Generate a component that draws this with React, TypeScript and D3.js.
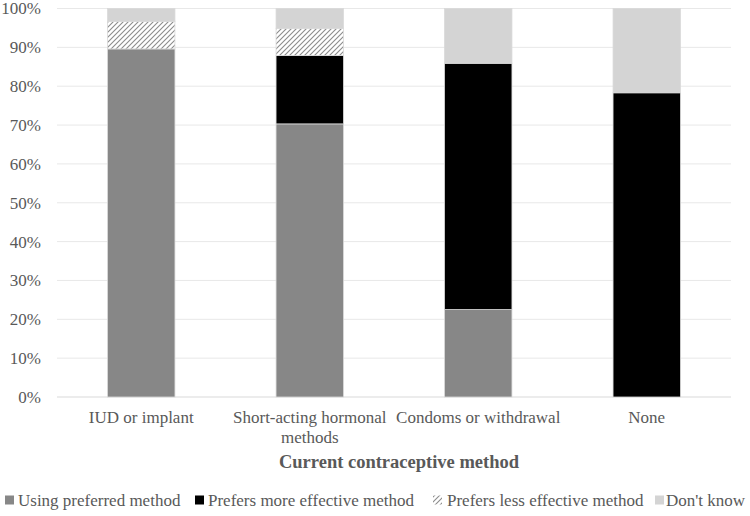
import React from "react";
import * as d3 from "d3";

const categories = ["IUD or implant", "Short-acting hormonal methods", "Condoms or withdrawal", "None"];
const categoryLines = [["IUD or implant"], ["Short-acting hormonal", "methods"], ["Condoms or withdrawal"], ["None"]];
const usingPreferred = [89.6, 70.3, 22.5, 0];
const prefersMore = [0, 17.6, 63.4, 78.3];
const prefersLess = [7.1, 7.0, 0, 0];
const dontKnow = [3.3, 5.1, 14.1, 21.7];
const yTicks = [0, 10, 20, 30, 40, 50, 60, 70, 80, 90, 100];
const seriesNames = ["Using preferred method", "Prefers more effective method", "Prefers less effective method", "Don't know"];

const W = 750;
const H = 516;
const FONT = "Liberation Serif, Times New Roman, Tinos, serif";
const TEXT = "#595959";
const txt = (size: number, bold = false): React.CSSProperties => ({
  fontFamily: FONT,
  fontSize: size + "px",
  fontWeight: bold ? 700 : 400,
  fill: TEXT,
});

export default function App() {
  const x = d3.scaleBand<string>().domain(categories).range([57, 731]).paddingInner(0.6).paddingOuter(0.3);
  const y = d3.scaleLinear().domain([0, 100]).range([397, 8.5]);

  const rows = categories.map((c, i) => ({
    cat: c,
    using: usingPreferred[i],
    more: prefersMore[i],
    less: prefersLess[i],
    dk: dontKnow[i],
  }));
  const keys = ["using", "more", "less", "dk"];
  const stack = d3.stack<any>().keys(keys)(rows);
  const fills = ["#878787", "#000000", "url(#hatch)", "#d4d4d4"];

  const legendX = [5, 195, 433, 655];
  const legendTextX = [18, 208, 447, 666];

  return (
    <svg width={W} height={H} style={{ position: "absolute", left: 0, top: 0, background: "#fff" }}>
      <defs>
        <pattern id="hatch" patternUnits="userSpaceOnUse" width="5" height="5">
          <rect width="5" height="5" fill="#ffffff" />
          <path d="M-1,1 l2,-2 M0,5 l5,-5 M4,6 l2,-2" stroke="#8c8c8c" strokeWidth="1.1" />
        </pattern>
      </defs>
      <rect width={W} height={H} fill="#fff" />
      {yTicks.map((t) => (
        <g key={t}>
          <line x1={57} x2={731} y1={y(t)} y2={y(t)} stroke={t === 0 ? "#d9d9d9" : "#e8e8e8"} strokeWidth={1} />
          <text x={41} y={y(t)} dy="0.35em" textAnchor="end" style={txt(17)}>
            {t}%
          </text>
        </g>
      ))}
      {stack.map((layer, li) =>
        layer.map((d, i) => {
          const h = y(d[0]) - y(d[1]);
          if (h <= 0) return null;
          return (
            <rect
              key={li + "-" + i}
              x={x(categories[i])}
              y={y(d[1])}
              width={x.bandwidth()}
              height={h}
              fill={fills[li]}
              stroke="#d9d9d9"
              strokeWidth={0.8}
            />
          );
        })
      )}
      {categoryLines.map((lines, i) => (
        <text key={i} textAnchor="middle" style={txt(17)}>
          {lines.map((l, j) => (
            <tspan key={j} x={(x(categories[i]) as number) + x.bandwidth() / 2} y={422.5 + j * 20}>
              {l}
            </tspan>
          ))}
        </text>
      ))}
      <text x={399} y={468} textAnchor="middle" style={txt(18.5, true)}>
        Current contraceptive method
      </text>
      {seriesNames.map((n, i) => (
        <g key={n}>
          <rect x={legendX[i]} y={495.5} width={9} height={9} fill={fills[i]} />
          <text x={legendTextX[i]} y={506} style={txt(17)}>
            {n}
          </text>
        </g>
      ))}
    </svg>
  );
}
